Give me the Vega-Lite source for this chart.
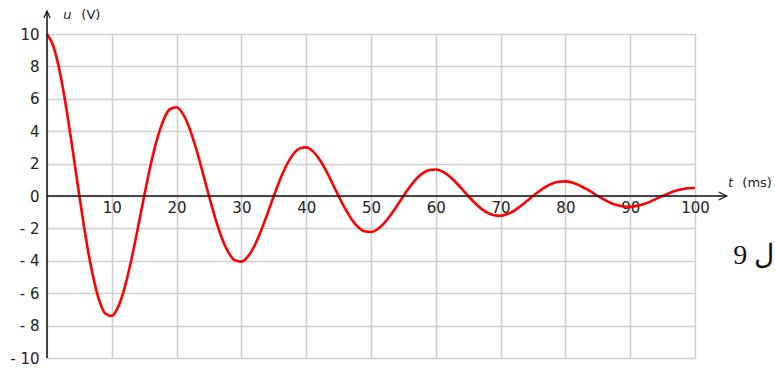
{
  "$schema": "https://vega.github.io/schema/vega-lite/v6.json",
  "width": 648,
  "height": 324,
  "autosize": {"type": "none"},
  "padding": {"left": 47, "top": 34, "right": 80, "bottom": 12},
  "background": "white",
  "config": {"view": {"stroke": null}},
  "datasets": {
    "curve": [
      {"t":0,"u":10},{"t":1,"u":9.23},{"t":2,"u":7.62},{"t":3,"u":5.37},{"t":4,"u":2.74},{"t":5,"u":0},
      {"t":6,"u":-2.58},{"t":7,"u":-4.76},{"t":8,"u":-6.36},{"t":9,"u":-7.25},{"t":10,"u":-7.4},
      {"t":11,"u":-6.83},{"t":12,"u":-5.64},{"t":13,"u":-3.97},{"t":14,"u":-2.03},{"t":15,"u":0},
      {"t":16,"u":1.91},{"t":17,"u":3.52},{"t":18,"u":4.71},{"t":19,"u":5.37},{"t":20,"u":5.48},
      {"t":21,"u":5.05},{"t":22,"u":4.17},{"t":23,"u":2.94},{"t":24,"u":1.5},{"t":25,"u":0},
      {"t":26,"u":-1.41},{"t":27,"u":-2.61},{"t":28,"u":-3.48},{"t":29,"u":-3.97},{"t":30,"u":-4.05},
      {"t":31,"u":-3.74},{"t":32,"u":-3.09},{"t":33,"u":-2.18},{"t":34,"u":-1.11},{"t":35,"u":0},
      {"t":36,"u":1.05},{"t":37,"u":1.93},{"t":38,"u":2.58},{"t":39,"u":2.94},{"t":40,"u":3.0},
      {"t":41,"u":2.77},{"t":42,"u":2.28},{"t":43,"u":1.61},{"t":44,"u":0.82},{"t":45,"u":0},
      {"t":46,"u":-0.77},{"t":47,"u":-1.43},{"t":48,"u":-1.91},{"t":49,"u":-2.18},{"t":50,"u":-2.22},
      {"t":51,"u":-2.05},{"t":52,"u":-1.69},{"t":53,"u":-1.19},{"t":54,"u":-0.61},{"t":55,"u":0},
      {"t":56,"u":0.57},{"t":57,"u":1.06},{"t":58,"u":1.41},{"t":59,"u":1.61},{"t":60,"u":1.64},
      {"t":61,"u":1.52},{"t":62,"u":1.25},{"t":63,"u":0.88},{"t":64,"u":0.45},{"t":65,"u":0},
      {"t":66,"u":-0.42},{"t":67,"u":-0.78},{"t":68,"u":-1.04},{"t":69,"u":-1.19},{"t":70,"u":-1.22},
      {"t":71,"u":-1.12},{"t":72,"u":-0.93},{"t":73,"u":-0.65},{"t":74,"u":-0.33},{"t":75,"u":0},
      {"t":76,"u":0.31},{"t":77,"u":0.58},{"t":78,"u":0.77},{"t":79,"u":0.88},{"t":80,"u":0.9},
      {"t":81,"u":0.83},{"t":82,"u":0.69},{"t":83,"u":0.48},{"t":84,"u":0.25},{"t":85,"u":0},
      {"t":86,"u":-0.23},{"t":87,"u":-0.43},{"t":88,"u":-0.57},{"t":89,"u":-0.65},{"t":90,"u":-0.67},
      {"t":91,"u":-0.61},{"t":92,"u":-0.51},{"t":93,"u":-0.36},{"t":94,"u":-0.18},{"t":95,"u":0},
      {"t":96,"u":0.17},{"t":97,"u":0.32},{"t":98,"u":0.42},{"t":99,"u":0.48},{"t":100,"u":0.49}
    ],
    "xaxis": [{"t": 0, "t2": 104.9, "u": 0}],
    "yaxis": [{"t": 0, "u": -10, "u2": 11.42}],
    "xarrow": [{"t": 104.9, "u": 0}],
    "yarrow": [{"t": 0, "u": 11.42}],
    "vars": [
      {"t": 2.5, "u": 11.15, "label": "u"},
      {"t": 105.1, "u": 0.8, "label": "t"}
    ],
    "units": [
      {"t": 5.3, "u": 11.15, "label": "(V)"},
      {"t": 107.3, "u": 0.8, "label": "(ms)"}
    ],
    "note": [{"t": 105.9, "u": -3.7, "label": "ل 9"}]
  },
  "encoding": {
    "x": {
      "field": "t", "type": "quantitative",
      "scale": {"domain": [0, 100], "nice": false, "zero": false},
      "axis": {
        "values": [0, 10, 20, 30, 40, 50, 60, 70, 80, 90, 100],
        "grid": true, "gridColor": "#cfcfcf", "gridWidth": 1.6,
        "domain": false, "ticks": false, "tickSize": 0,
        "labelExpr": "datum.value == 0 ? '' : datum.label",
        "labelPadding": -151, "labelBaseline": "middle",
        "labelFont": "DejaVu Sans", "labelFontSize": 15, "labelColor": "#222222",
        "labelOverlap": false, "labelBound": false, "labelFlush": false,
        "title": null
      }
    },
    "y": {
      "field": "u", "type": "quantitative",
      "scale": {"domain": [-10, 10], "nice": false, "zero": false},
      "axis": {
        "values": [-10, -8, -6, -4, -2, 0, 2, 4, 6, 8, 10],
        "grid": true, "gridColor": "#cfcfcf", "gridWidth": 1.6,
        "domain": false, "ticks": false, "tickSize": 0,
        "labelExpr": "datum.value < 0 ? '- ' + abs(datum.value) : datum.label",
        "labelPadding": 8,
        "labelFont": "DejaVu Sans", "labelFontSize": 15, "labelColor": "#222222",
        "labelOverlap": false, "labelBound": false, "labelFlush": false,
        "title": null
      }
    }
  },
  "layer": [
    {
      "data": {"name": "curve"},
      "mark": {"type": "line", "color": "#ff0000", "strokeWidth": 2.6, "interpolate": "monotone"}
    },
    {
      "data": {"name": "xaxis"},
      "mark": {"type": "rule", "color": "#111111", "strokeWidth": 1.5},
      "encoding": {"x2": {"field": "t2"}}
    },
    {
      "data": {"name": "yaxis"},
      "mark": {"type": "rule", "color": "#111111", "strokeWidth": 1.5},
      "encoding": {"y2": {"field": "u2"}}
    },
    {
      "data": {"name": "xarrow"},
      "mark": {"type": "point", "shape": "M-1,-0.5L0,0L-1,0.5", "filled": false, "stroke": "#111111", "strokeWidth": 1.2, "size": 256, "opacity": 1}
    },
    {
      "data": {"name": "yarrow"},
      "mark": {"type": "point", "shape": "M-0.45,1L0,0L0.45,1", "filled": false, "stroke": "#111111", "strokeWidth": 1.2, "size": 196, "opacity": 1}
    },
    {
      "data": {"name": "vars"},
      "mark": {"type": "text", "align": "left", "baseline": "middle", "font": "DejaVu Sans", "fontSize": 13, "fontStyle": "italic", "color": "#222222"},
      "encoding": {"text": {"field": "label"}}
    },
    {
      "data": {"name": "units"},
      "mark": {"type": "text", "align": "left", "baseline": "middle", "font": "DejaVu Sans", "fontSize": 13, "color": "#222222"},
      "encoding": {"text": {"field": "label"}}
    },
    {
      "data": {"name": "note"},
      "mark": {"type": "text", "align": "left", "baseline": "middle", "font": "Liberation Serif", "fontSize": 28, "color": "#111111"},
      "encoding": {"text": {"field": "label"}}
    }
  ]
}
